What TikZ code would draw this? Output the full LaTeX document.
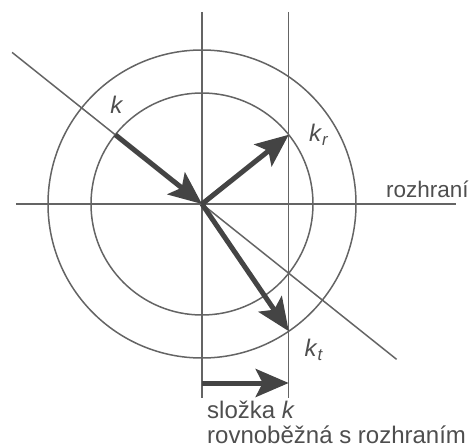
\documentclass[tikz,border=0pt]{standalone}
\usepackage{fontspec}
\setmainfont{Liberation Sans}
\usetikzlibrary{arrows.meta,calc,positioning}

\definecolor{linegray}{RGB}{100,100,100}
\definecolor{vecgray}{RGB}{68,68,68}
\definecolor{txtgray}{RGB}{78,78,78}

\begin{document}
\begin{tikzpicture}[x=1pt,y=1pt,
  thin line/.style={draw=linegray,line width=1.5pt},
  vec/.style={draw=vecgray,line width=5pt,
    -{Stealth[length=33pt,width=28pt,inset=7pt,fill=vecgray]}},
  lbl/.style={text=txtgray,inner sep=0pt,font=\fontsize{24}{24}\selectfont}]
  \useasboundingbox (-202,-243) rectangle (268,204);
  % centre, circles, interface
  \coordinate (O) at (0,0);
  \draw[thin line] (O) circle (111);
  \draw[thin line] (O) circle (154);
  \coordinate (L) at (-186,0);
  \coordinate (R) at (254,0);
  \draw[thin line] (L)--(R);
  % normal and the line through k_r, k_t
  \coordinate (N1) at (0,192);
  \coordinate (N2) at (0,-194);
  \coordinate (P1) at (86.7,192);
  \coordinate (P2) at (86.7,-194);
  \draw[thin line] (N1)--(N2);
  \draw[thin line] (P1)--(P2);
  % incident direction
  \coordinate (I1) at (141.4:243);
  \coordinate (I2) at (-38.6:249);
  \draw[thin line] (I1)--(I2);
  % wave vectors
  \coordinate (Kin) at (141.4:111);
  \coordinate (Kr) at (38.6:111);
  \coordinate (Kt) at (-55.7:154);
  \draw[vec] (Kin)--(O);
  \draw[vec] (O)--(Kr);
  \draw[vec] (O)--(Kt);
  % parallel component
  \coordinate (C1) at (0,-179);
  \coordinate (C2) at (86.7,-179);
  \draw[vec] (C1)--(C2);
  % labels
  \node[lbl] (k) at (-85,99) {\textit{k}};
  \node[lbl] (kr) at (117,69) {\textit{k}\textsubscript{\textit{r}}};
  \node[lbl] (kt) at (112,-146) {\textit{k}\textsubscript{\textit{t}}};
  \node[lbl,anchor=base west,font=\fontsize{22.5}{22.5}\selectfont] (rozhrani) at (184,7) {rozhraní};
  \node[lbl,anchor=base west] (slozka) at (5,-214) {složka \textit{k}};
  \node[lbl,anchor=base west] (rovnob) at (5,-239) {rovnoběžná s rozhraním};
\end{tikzpicture}
\end{document}
